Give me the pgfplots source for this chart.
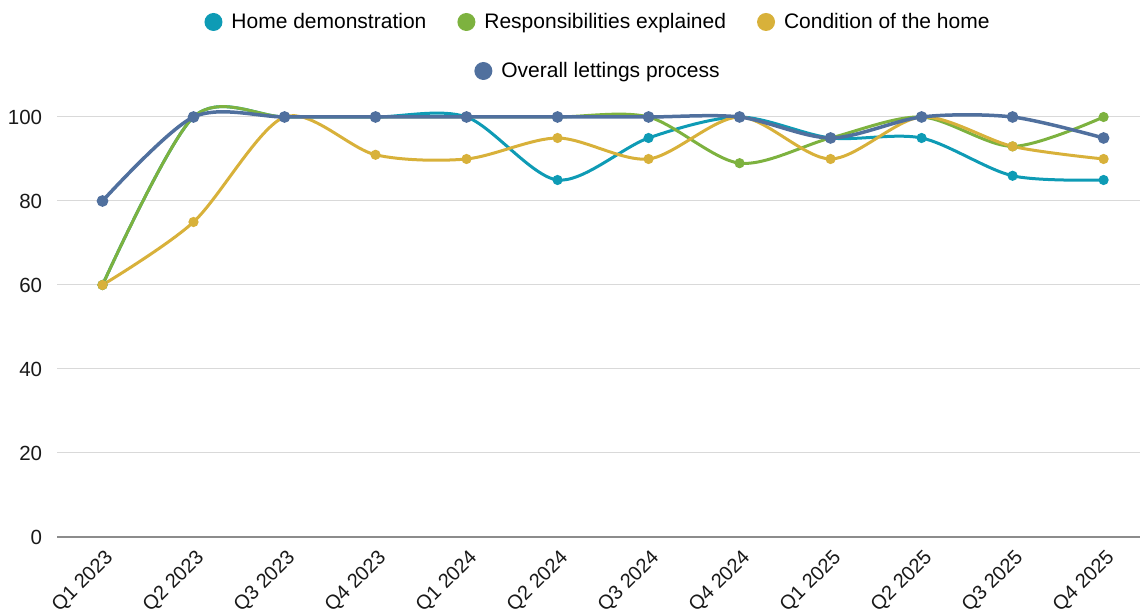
\documentclass[border=0pt]{standalone}
\usepackage{fontspec}
\setmainfont{Liberation Sans}
\usepackage{pgfplots}
\pgfplotsset{compat=1.18}
\definecolor{cteal}{HTML}{0E9BB5}
\definecolor{cgreen}{HTML}{7DB23F}
\definecolor{cyellow}{HTML}{D8B13A}
\definecolor{cblue}{HTML}{50709E}
\definecolor{cgrid}{HTML}{D9D9D9}
\definecolor{caxis}{HTML}{8C8C8C}
\begin{document}
\fontsize{20bp}{24bp}\selectfont
\begin{tikzpicture}[x=1bp,y=1bp]
\path[use as bounding box] (0,0) rectangle (1140,614);
\pgfplotsset{
  common/.style={
    at={(57bp,77bp)}, anchor=south west, scale only axis,
    width=1083bp, height=420bp,
    xmin=-0.5, xmax=11.4, ymin=0, ymax=100,
  },
}
\begin{axis}[common,
  clip=false,
  axis line style={draw=none},
  major tick length=0pt,
  ymajorgrids, grid style={cgrid, line width=1bp},
  ytick={0,20,40,60,80,100},
  extra y ticks={0}, extra y tick labels={},
  extra y tick style={grid style={caxis, line width=1.5bp}},
  xtick={0,...,11},
  xticklabels={Q1 2023,Q2 2023,Q3 2023,Q4 2023,Q1 2024,Q2 2024,Q3 2024,Q4 2024,Q1 2025,Q2 2025,Q3 2025,Q4 2025},
  xticklabel style={rotate=45, anchor=north east, inner sep=1bp, xshift=-6bp, yshift=-8bp, font=\fontsize{20bp}{24bp}\selectfont},
  yticklabel style={xshift=-8bp, font=\fontsize{20.5bp}{24bp}\selectfont},
  tick label style={text=black!90},
  /pgf/number format/assume math mode=true,
  legend style={draw=none, fill=none, font=\fontsize{21bp}{24bp}\selectfont,
    at={(axis description cs:0.5,1)}, anchor=center, yshift=95bp,
    nodes={inner sep=3bp}, cells={anchor=west},
    /tikz/every odd column/.append style={column sep=6bp},
    /tikz/every even column/.append style={column sep=28bp}},
  legend columns=3,
  legend image code/.code={\path[#1, draw=none] (9bp,0bp) circle[radius=9bp];},
]
\addplot[cteal, line width=3bp, smooth, mark=*, mark size=3.5bp, forget plot]
  coordinates {(0,60)(1,100)(2,100)(3,100)(4,100)(5,85)(6,95)(7,100)(8,95)(9,95)(10,86)(11,85)};
\addplot[cgreen, line width=3bp, smooth, mark=*, mark size=3.5bp, forget plot]
  coordinates {(0,60)(1,100)(2,100)(3,100)(4,100)(5,100)(6,100)(7,89)(8,95)(9,100)(10,93)(11,100)};
\addplot[cyellow, line width=3bp, smooth, mark=*, mark size=3.5bp, forget plot]
  coordinates {(0,60)(1,75)(2,100)(3,91)(4,90)(5,95)(6,90)(7,100)(8,90)(9,100)(10,93)(11,90)};
\addplot[cblue, line width=3.5bp, smooth, mark=*, mark size=4bp, forget plot]
  coordinates {(0,80)(1,100)(2,100)(3,100)(4,100)(5,100)(6,100)(7,100)(8,95)(9,100)(10,100)(11,95)};
\addlegendimage{fill=cteal}
\addlegendentry{Home demonstration}
\addlegendimage{fill=cgreen}
\addlegendentry{Responsibilities explained}
\addlegendimage{fill=cyellow}
\addlegendentry{Condition of the home}
\end{axis}
\begin{axis}[common, hide axis,
  legend style={draw=none, fill=none, font=\fontsize{21bp}{24bp}\selectfont,
    at={(axis description cs:0.5,1)}, anchor=center, yshift=46bp,
    nodes={inner sep=3bp}, cells={anchor=west},
    /tikz/every odd column/.append style={column sep=6bp}},
  legend image code/.code={\path[#1, draw=none] (9bp,0bp) circle[radius=9bp];},
]
\addlegendimage{fill=cblue}
\addlegendentry{Overall lettings process}
\end{axis}
\end{tikzpicture}
\end{document}
